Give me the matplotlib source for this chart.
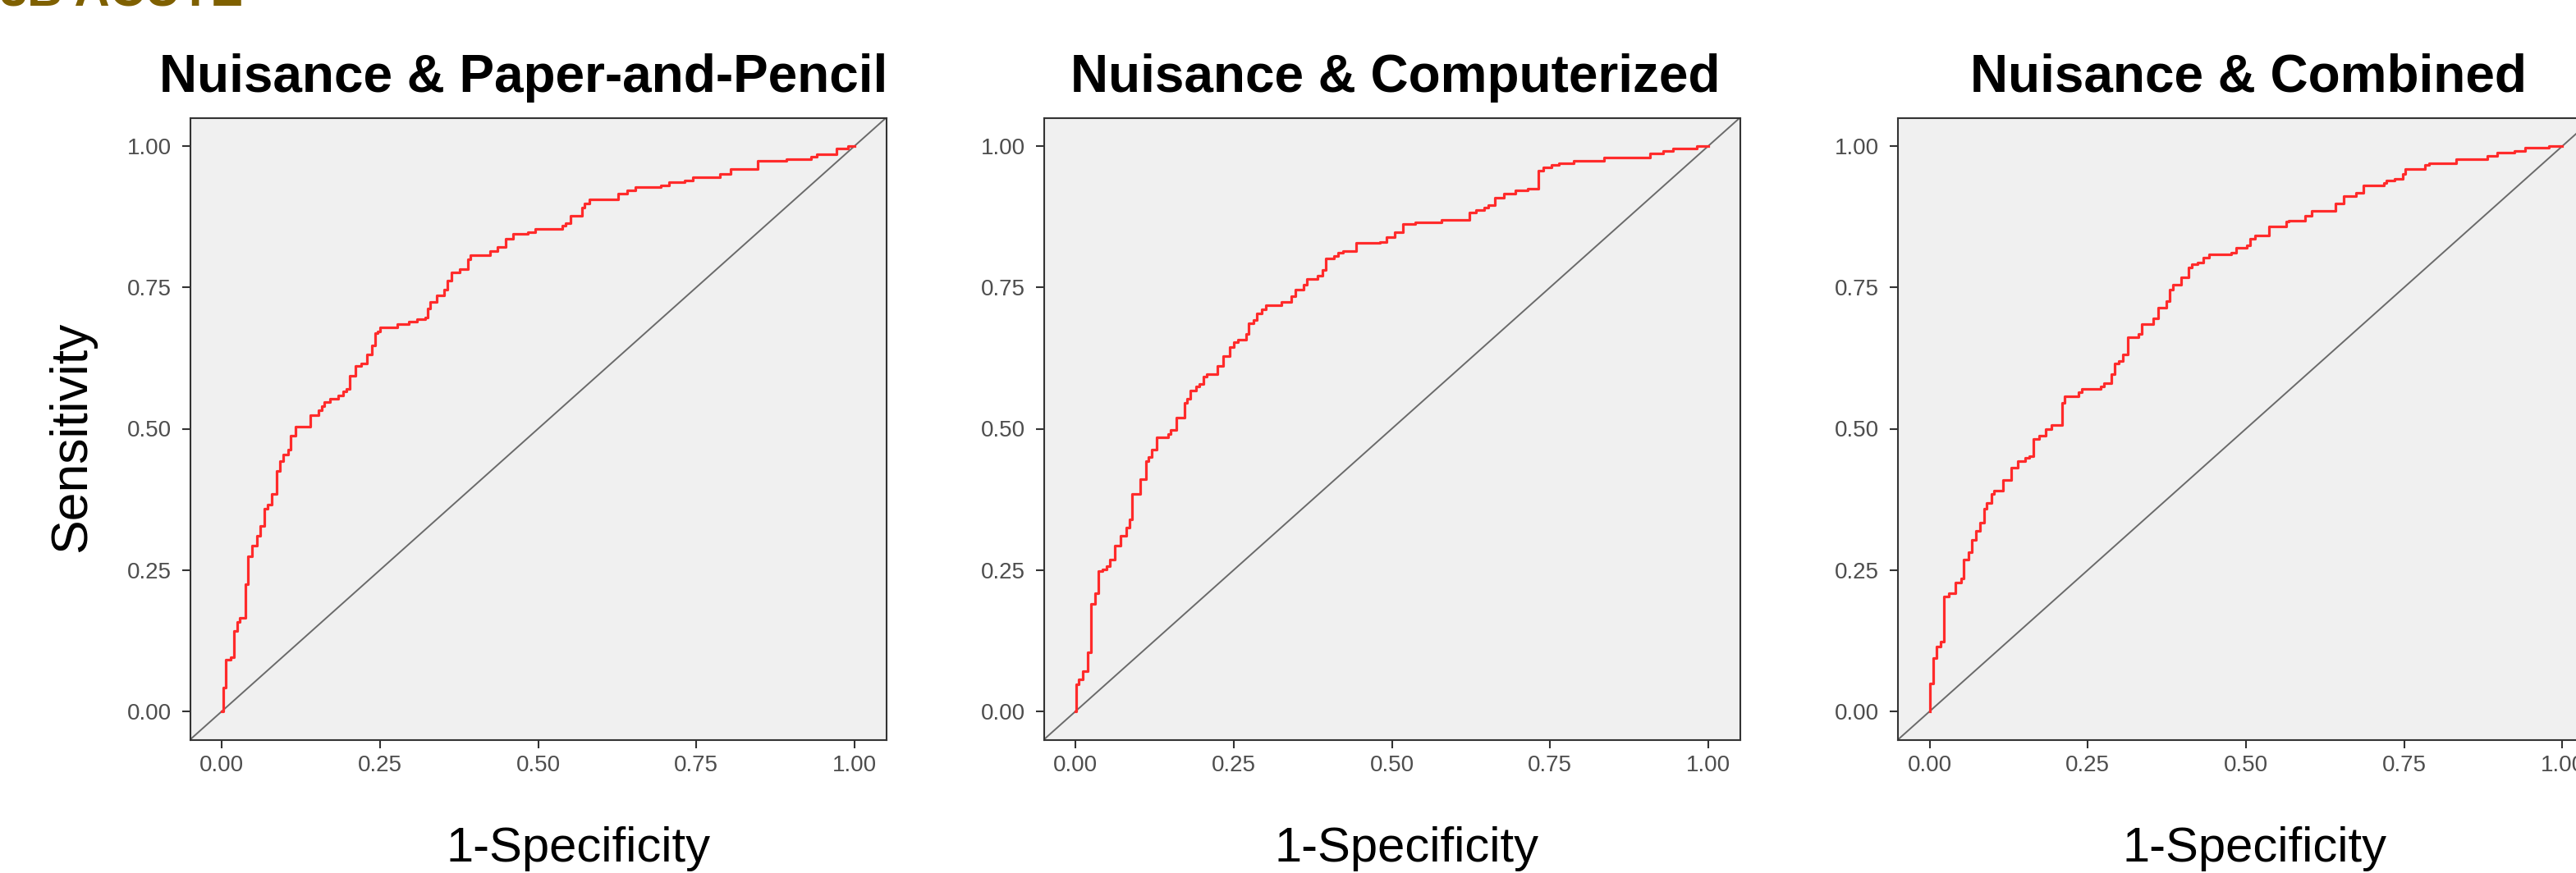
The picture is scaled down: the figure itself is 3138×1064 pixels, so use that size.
import numpy as np
import matplotlib.pyplot as plt

plt.rcParams['font.family'] = ['Liberation Sans', 'DejaVu Sans']

titles = ['Nuisance & Paper-and-Pencil', 'Nuisance & Computerized', 'Nuisance & Combined']
tick_vals = [0.0, 0.25, 0.5, 0.75, 1.0]
tick_labels = ['0.00', '0.25', '0.50', '0.75', '1.00']

# ROC step curves: (1-specificity, sensitivity)
pp_fpr = [0, 0.002, 0.007, 0.014, 0.020, 0.025, 0.028, 0.038, 0.042, 0.048,
          0.056, 0.061, 0.068, 0.073, 0.079, 0.087, 0.092, 0.097, 0.105, 0.109,
          0.117, 0.140, 0.153, 0.158, 0.162, 0.171, 0.184, 0.192, 0.197, 0.202,
          0.212, 0.220, 0.230, 0.237, 0.242, 0.246, 0.250, 0.278, 0.296, 0.309,
          0.322, 0.326, 0.330, 0.340, 0.352, 0.357, 0.363, 0.376, 0.389, 0.393,
          0.424, 0.436, 0.449, 0.460, 0.484, 0.495, 0.538, 0.543, 0.551, 0.569,
          0.573, 0.581, 0.627, 0.641, 0.654, 0.694, 0.707, 0.732, 0.744, 0.787,
          0.804, 0.847, 0.893, 0.931, 0.941, 0.972, 0.990, 1.000]
pp_tpr = [0, 0.042, 0.091, 0.096, 0.143, 0.158, 0.165, 0.225, 0.274, 0.293,
          0.310, 0.328, 0.358, 0.366, 0.385, 0.425, 0.442, 0.454, 0.463, 0.488,
          0.503, 0.524, 0.533, 0.540, 0.547, 0.553, 0.559, 0.566, 0.570, 0.593,
          0.611, 0.616, 0.631, 0.648, 0.669, 0.672, 0.679, 0.685, 0.690, 0.694,
          0.697, 0.712, 0.724, 0.736, 0.746, 0.762, 0.776, 0.782, 0.799, 0.807,
          0.814, 0.822, 0.836, 0.844, 0.848, 0.854, 0.859, 0.863, 0.876, 0.891,
          0.899, 0.905, 0.916, 0.922, 0.928, 0.931, 0.936, 0.939, 0.945, 0.950,
          0.959, 0.974, 0.977, 0.981, 0.985, 0.996, 1.000, 1.000]

comp_fpr = [0, 0.001, 0.005, 0.011, 0.019, 0.024, 0.031, 0.036, 0.043, 0.049,
            0.055, 0.062, 0.071, 0.080, 0.085, 0.090, 0.103, 0.111, 0.115, 0.120,
            0.128, 0.146, 0.150, 0.159, 0.173, 0.177, 0.182, 0.190, 0.196, 0.202,
            0.207, 0.224, 0.234, 0.244, 0.250, 0.257, 0.270, 0.274, 0.281, 0.287,
            0.294, 0.301, 0.325, 0.341, 0.348, 0.361, 0.366, 0.382, 0.390, 0.396,
            0.409, 0.415, 0.423, 0.444, 0.481, 0.492, 0.505, 0.518, 0.537, 0.579,
            0.622, 0.633, 0.646, 0.653, 0.663, 0.677, 0.695, 0.715, 0.732, 0.739,
            0.752, 0.764, 0.787, 0.835, 0.908, 0.929, 0.944, 0.982, 1.000]
comp_tpr = [0, 0.048, 0.056, 0.071, 0.105, 0.190, 0.209, 0.248, 0.251, 0.257,
            0.268, 0.293, 0.310, 0.325, 0.339, 0.385, 0.411, 0.442, 0.450, 0.463,
            0.485, 0.491, 0.498, 0.520, 0.545, 0.553, 0.567, 0.575, 0.579, 0.592,
            0.596, 0.611, 0.628, 0.644, 0.653, 0.658, 0.668, 0.687, 0.692, 0.704,
            0.711, 0.719, 0.724, 0.735, 0.746, 0.755, 0.765, 0.770, 0.781, 0.801,
            0.805, 0.812, 0.814, 0.828, 0.830, 0.839, 0.847, 0.862, 0.865, 0.870,
            0.882, 0.887, 0.891, 0.896, 0.908, 0.916, 0.922, 0.925, 0.956, 0.962,
            0.966, 0.970, 0.974, 0.979, 0.987, 0.991, 0.996, 1.000, 1.000]

comb_fpr = [0, 0.001, 0.006, 0.011, 0.017, 0.023, 0.031, 0.041, 0.050, 0.054,
            0.062, 0.067, 0.073, 0.080, 0.086, 0.090, 0.098, 0.102, 0.116, 0.129,
            0.140, 0.151, 0.157, 0.164, 0.173, 0.183, 0.192, 0.209, 0.213, 0.235,
            0.240, 0.270, 0.276, 0.287, 0.292, 0.299, 0.306, 0.313, 0.330, 0.335,
            0.354, 0.361, 0.374, 0.379, 0.384, 0.397, 0.409, 0.415, 0.423, 0.433,
            0.442, 0.477, 0.484, 0.501, 0.507, 0.514, 0.536, 0.563, 0.568, 0.593,
            0.604, 0.641, 0.655, 0.674, 0.686, 0.718, 0.722, 0.735, 0.748, 0.752,
            0.783, 0.789, 0.832, 0.881, 0.897, 0.924, 0.941, 0.979, 1.000]
comb_tpr = [0, 0.049, 0.095, 0.114, 0.124, 0.203, 0.209, 0.228, 0.235, 0.269,
            0.282, 0.303, 0.320, 0.334, 0.358, 0.368, 0.384, 0.391, 0.409, 0.431,
            0.443, 0.448, 0.451, 0.482, 0.488, 0.499, 0.506, 0.545, 0.557, 0.565,
            0.570, 0.575, 0.580, 0.597, 0.615, 0.620, 0.632, 0.662, 0.668, 0.685,
            0.695, 0.714, 0.726, 0.746, 0.754, 0.768, 0.785, 0.791, 0.794, 0.803,
            0.808, 0.812, 0.820, 0.824, 0.836, 0.842, 0.857, 0.866, 0.868, 0.877,
            0.885, 0.899, 0.911, 0.917, 0.931, 0.934, 0.939, 0.942, 0.951, 0.960,
            0.966, 0.969, 0.977, 0.983, 0.988, 0.991, 0.997, 1.000, 1.000]

curves = [(pp_fpr, pp_tpr), (comp_fpr, comp_tpr), (comb_fpr, comb_tpr)]

W, H = 3138, 1064
fig = plt.figure(figsize=(W / 100, H / 100), dpi=100)

ax_lefts = [231.5, 1271.5, 2312]
title_x = [638, 1700, 2739]
xlabel_x = [704, 1713, 2747]

for i, (fpr, tpr) in enumerate(curves):
    ax = fig.add_axes([ax_lefts[i] / W, (H - 901.5) / H, 848 / W, 758 / H])
    ax.set_facecolor('#F0F0F0')
    ax.axline((0, 0), slope=1, color='#6A6A6A', lw=1.4, zorder=1)
    ax.plot(fpr, tpr, drawstyle='steps-post', color='#FF2B2B', lw=2.3, zorder=2)
    ax.set_xlim(-0.05, 1.05)
    ax.set_ylim(-0.05, 1.05)
    ax.set_xticks(tick_vals)
    ax.set_xticklabels(tick_labels)
    ax.set_yticks(tick_vals)
    ax.set_yticklabels(tick_labels)
    ax.tick_params(axis='both', length=7.5, width=1.5, color='#333333',
                   labelsize=20, labelcolor='#4D4D4D')
    ax.tick_params(axis='x', pad=6)
    ax.tick_params(axis='y', pad=9)
    for sp in ax.spines.values():
        sp.set_color('#333333')
        sp.set_linewidth(1.5)

    fig.text(title_x[i] / W, (H - 112) / H, titles[i], fontsize=46,
             fontweight='bold', ha='center', va='baseline')
    fig.text(xlabel_x[i] / W, (H - 1050) / H, '1-Specificity', fontsize=43,
             ha='center', va='baseline')

fig.text(88 / W, 0.5, 'Sensitivity', fontsize=45, rotation=90,
         ha='center', va='center')
fig.text(0, (H - 7) / H, '3B ACUTE', fontsize=43, fontweight='bold',
         color='#7F6000', ha='left', va='baseline')

fig.savefig('out.png', dpi=100)
plt.close(fig)
